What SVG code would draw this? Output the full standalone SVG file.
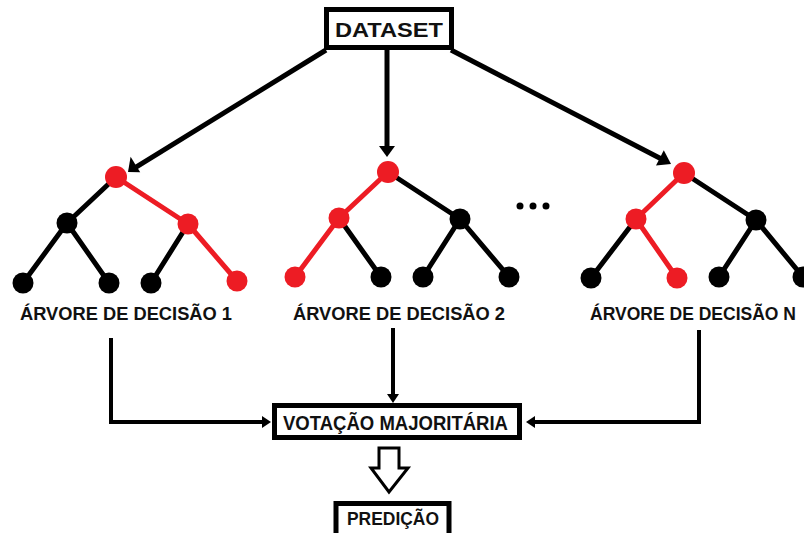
<svg xmlns="http://www.w3.org/2000/svg" width="804" height="533" viewBox="0 0 804 533">
<style>
.box{fill:#fff;stroke:#000;stroke-width:5}
.t{font-family:"Liberation Sans",Arial,sans-serif;font-weight:bold;fill:#111}
.e{stroke:#000;stroke-width:5;fill:none;stroke-linecap:round}
.er{stroke:#ED1C24;stroke-width:5;fill:none;stroke-linecap:round}
.n{fill:#000}
.nr{fill:#ED1C24}
.c{stroke:#000;fill:none;stroke-linejoin:miter}
.c5{stroke-width:5}
.c4{stroke-width:4}
.h{fill:#000}
</style>
<rect width="804" height="533" fill="#fff"/>

<g id="connectors">
  <line class="c c5" x1="326" y1="50" x2="134.8" y2="167.8"/>
  <polygon class="h" points="128,172 130.6,156.7 140.2,172.3"/>
  <line class="c c5" x1="387" y1="50" x2="387" y2="148"/>
  <polygon class="h" points="387,157 379,146 395,146"/>
  <line class="c c5" x1="451" y1="50" x2="663.9" y2="160.3"/>
  <polygon class="h" points="671,164 656,165.5 663.8,150.3"/>

  <polyline class="c c4" points="111,338 111,422 263,422"/>
  <polygon class="h" points="271,422 262,416 262,428"/>
  <line class="c c4" x1="393" y1="328" x2="393" y2="395"/>
  <polygon class="h" points="393,403 387,394 399,394"/>
  <polyline class="c c4" points="699,330 699,422 533,422"/>
  <polygon class="h" points="526,422 535,416 535,428"/>

  <polygon points="379,448 399,448 399,468 408,468 389,492 371,468 379,468" fill="#fff" stroke="#000" stroke-width="3"/>
</g>

<g id="dataset">
  <rect class="box" x="326.5" y="9.5" width="125" height="38"/>
  <text class="t" x="335" y="37" font-size="20.5" textLength="108" lengthAdjust="spacingAndGlyphs">DATASET</text>
</g>

<g id="tree1">
  <line class="e" x1="116" y1="177" x2="67" y2="223"/>
  <line class="er" x1="116" y1="177" x2="188" y2="224"/>
  <line class="e" x1="67" y1="223" x2="23" y2="283"/>
  <line class="e" x1="67" y1="223" x2="109" y2="283"/>
  <line class="e" x1="188" y1="224" x2="151" y2="283"/>
  <line class="er" x1="188" y1="224" x2="237" y2="281"/>
  <circle class="nr" cx="116" cy="177" r="11"/>
  <circle class="n" cx="67" cy="223" r="10.5"/>
  <circle class="nr" cx="188" cy="224" r="10.5"/>
  <circle class="n" cx="23" cy="283" r="10.5"/>
  <circle class="n" cx="109" cy="283" r="10.5"/>
  <circle class="n" cx="151" cy="283" r="10.5"/>
  <circle class="nr" cx="237" cy="281" r="10.5"/>
  <text class="t" x="20" y="320" font-size="19" textLength="212" lengthAdjust="spacingAndGlyphs">ÁRVORE DE DECISÃO 1</text>
</g>

<g id="tree2">
  <line class="er" x1="388" y1="172" x2="339" y2="218"/>
  <line class="e" x1="388" y1="172" x2="460" y2="219"/>
  <line class="er" x1="339" y1="218" x2="295" y2="277"/>
  <line class="e" x1="339" y1="218" x2="381" y2="277"/>
  <line class="e" x1="460" y1="219" x2="423" y2="277"/>
  <line class="e" x1="460" y1="219" x2="509" y2="277"/>
  <circle class="nr" cx="388" cy="172" r="11"/>
  <circle class="nr" cx="339" cy="218" r="10.5"/>
  <circle class="n" cx="460" cy="219" r="10.5"/>
  <circle class="nr" cx="295" cy="277" r="10.5"/>
  <circle class="n" cx="381" cy="277" r="10.5"/>
  <circle class="n" cx="423" cy="277" r="10.5"/>
  <circle class="n" cx="509" cy="277" r="10.5"/>
  <text class="t" x="293" y="320" font-size="19" textLength="212" lengthAdjust="spacingAndGlyphs">ÁRVORE DE DECISÃO 2</text>
</g>

<g id="ellipsis">
  <circle class="n" cx="520" cy="206" r="3.5"/>
  <circle class="n" cx="533" cy="206" r="3.5"/>
  <circle class="n" cx="546" cy="206" r="3.5"/>
</g>

<g id="treeN">
  <line class="er" x1="684" y1="173" x2="636" y2="219"/>
  <line class="e" x1="684" y1="173" x2="756" y2="220"/>
  <line class="e" x1="636" y1="219" x2="591" y2="278"/>
  <line class="er" x1="636" y1="219" x2="677" y2="278"/>
  <line class="e" x1="756" y1="220" x2="719" y2="277"/>
  <line class="e" x1="756" y1="220" x2="803" y2="277"/>
  <circle class="nr" cx="684" cy="173" r="11"/>
  <circle class="nr" cx="636" cy="219" r="10.5"/>
  <circle class="n" cx="756" cy="220" r="10.5"/>
  <circle class="n" cx="591" cy="278" r="10.5"/>
  <circle class="nr" cx="677" cy="278" r="10.5"/>
  <circle class="n" cx="719" cy="277" r="10.5"/>
  <circle class="n" cx="803" cy="277" r="10.5"/>
  <text class="t" x="590" y="320" font-size="17.5" textLength="206" lengthAdjust="spacingAndGlyphs">ÁRVORE DE DECISÃO N</text>
</g>

<g id="votacao">
  <rect class="box" x="274.5" y="405.5" width="245" height="32"/>
  <text class="t" x="283" y="430" font-size="19.5" textLength="225" lengthAdjust="spacingAndGlyphs">VOTAÇÃO MAJORITÁRIA</text>
</g>

<g id="predicao">
  <rect class="box" x="336" y="503.5" width="113" height="40"/>
  <text class="t" x="347" y="525" font-size="19" textLength="92" lengthAdjust="spacingAndGlyphs">PREDIÇÃO</text>
</g>
</svg>
